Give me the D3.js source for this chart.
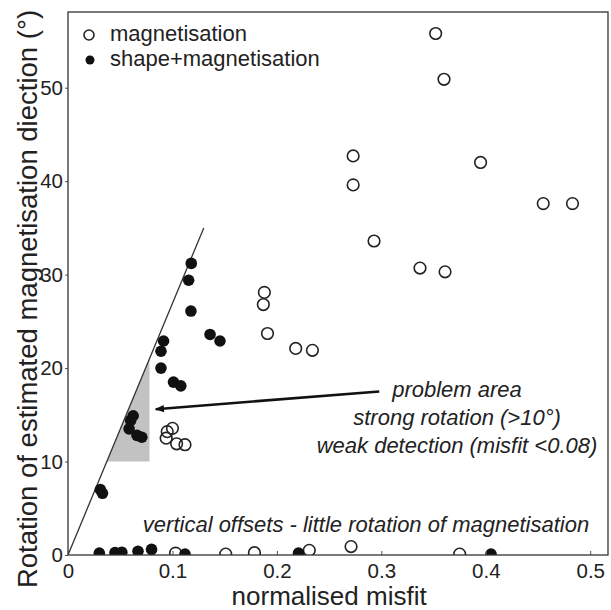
<!DOCTYPE html>
<html>
<head>
<meta charset="utf-8">
<script src="https://cdn.jsdelivr.net/npm/d3@7"></script>
<style>
  body { margin: 0; background: #fff; }
  svg { font-family: "Liberation Sans", Arial, sans-serif; }
</style>
</head>
<body>
<script>
// magnetisation only (open circles)
var magX = [0.352, 0.360, 0.273, 0.273, 0.395, 0.455, 0.483, 0.293, 0.337, 0.361,
            0.188, 0.187, 0.191, 0.218, 0.234, 0.100, 0.095, 0.094, 0.104, 0.112,
            0.103, 0.151, 0.1785, 0.231, 0.271, 0.375];
var magY = [55.8, 50.9, 42.7, 39.6, 42.0, 37.6, 37.6, 33.6, 30.7, 30.3,
            28.1, 26.8, 23.7, 22.1, 21.9, 13.55, 13.2, 12.5, 11.9, 11.8,
            0.2, 0.1, 0.25, 0.5, 0.9, 0.1];
// shape + magnetisation (filled)
var shapeX = [0.118, 0.1155, 0.1177, 0.136, 0.1455, 0.0915, 0.089, 0.089, 0.101, 0.108,
              0.0624, 0.060, 0.0585, 0.066, 0.0707, 0.031, 0.033,
              0.030, 0.045, 0.0515, 0.067, 0.080, 0.112, 0.2207, 0.405];
var shapeY = [31.2, 29.4, 26.1, 23.6, 22.9, 22.9, 21.8, 20.0, 18.5, 18.1,
              14.9, 14.4, 13.5, 12.8, 12.6, 7.0, 6.6,
              0.2, 0.25, 0.3, 0.4, 0.6, 0.1, 0.2, 0.1];

var xTicks = [0, 0.1, 0.2, 0.3, 0.4, 0.5];
var xTickLabels = ["0", "0.1", "0.2", "0.3", "0.4", "0.5"];
var yTicks = [0, 10, 20, 30, 40, 50];

var legendLabels = ["magnetisation", "shape+magnetisation"];
var problemText = ["problem area", "strong rotation (>10°)", "weak detection (misfit <0.08)"];
var offsetText = "vertical offsets - little rotation of magnetisation";

// trend line + problem box
var lineEnd = [0.13, 35];
var slope = lineEnd[1] / lineEnd[0];
var boxX = 0.078, boxY = 10;
var arrowFrom = [0.298, 17.5], arrowTo = [0.084, 15.6];

var W = 611, H = 610;
var margin = {top: 12, right: 3, bottom: 55, left: 68};

var svg = d3.select("body").append("svg")
    .attr("width", W)
    .attr("height", H);

var x = d3.scaleLinear().domain([0, 0.517]).range([margin.left, W - margin.right]);
var y = d3.scaleLinear().domain([0, 58.1]).range([H - margin.bottom, margin.top]);

svg.append("defs").append("clipPath").attr("id", "plot")
  .append("rect")
    .attr("x", margin.left).attr("y", margin.top)
    .attr("width", W - margin.left - margin.right)
    .attr("height", H - margin.top - margin.bottom);

svg.append("defs").append("marker")
    .attr("id", "head")
    .attr("viewBox", "0 0 10 10")
    .attr("refX", 9).attr("refY", 5)
    .attr("markerWidth", 6).attr("markerHeight", 3.5)
    .attr("orient", "auto")
  .append("path")
    .attr("d", "M0,1 L10,5 L0,9 Z")
    .attr("fill", "#111");

var g = svg.append("g").attr("clip-path", "url(#plot)");

// shaded problem area
var box = [[boxY / slope, boxY], [boxX, boxY], [boxX, boxX * slope]];
g.append("path")
    .attr("d", d3.line().x(function(d) { return x(d[0]); }).y(function(d) { return y(d[1]); })(box) + "Z")
    .attr("fill", "#c2c2c2");

g.append("line")
    .attr("x1", x(0)).attr("y1", y(0))
    .attr("x2", x(lineEnd[0])).attr("y2", y(lineEnd[1]))
    .attr("stroke", "#333").attr("stroke-width", 1.3);

// axes
var xAxis = d3.axisBottom(x).tickValues(xTicks)
    .tickFormat(function(d, i) { return xTickLabels[i]; })
    .tickSize(-4).tickPadding(8);
var gx = svg.append("g").attr("transform", "translate(0," + (H - margin.bottom) + ")").call(xAxis);

var yAxis = d3.axisLeft(y).tickValues(yTicks).tickSize(3).tickPadding(2);
var gy = svg.append("g").attr("transform", "translate(" + margin.left + ",0)").call(yAxis);

[gx, gy].forEach(function(a) {
  a.select(".domain").remove();
  a.selectAll("line").attr("stroke", "#555");
  a.selectAll("text").attr("font-size", 20.5).attr("fill", "#222")
   .attr("font-family", "Liberation Sans, Arial, sans-serif");
});

svg.append("rect")
    .attr("x", margin.left).attr("y", margin.top)
    .attr("width", W - margin.left - margin.right)
    .attr("height", H - margin.top - margin.bottom)
    .attr("fill", "none").attr("stroke", "#333").attr("stroke-width", 1.3);

// points
var mag = magX.map(function(d, i) { return {x: d, y: magY[i]}; });
var shape = shapeX.map(function(d, i) { return {x: d, y: shapeY[i]}; });

g.selectAll(".mag").data(mag)
  .enter().append("circle")
    .attr("class", "mag")
    .attr("cx", function(d) { return x(d.x); })
    .attr("cy", function(d) { return y(d.y); })
    .attr("r", 5.8)
    .attr("fill", "none").attr("stroke", "#222").attr("stroke-width", 1.6);

g.selectAll(".shape").data(shape)
  .enter().append("circle")
    .attr("class", "shape")
    .attr("cx", function(d) { return x(d.x); })
    .attr("cy", function(d) { return y(d.y); })
    .attr("r", 5.8)
    .attr("fill", "#111");

// arrow
svg.append("line")
    .attr("x1", x(arrowFrom[0])).attr("y1", y(arrowFrom[1]))
    .attr("x2", x(arrowTo[0])).attr("y2", y(arrowTo[1]))
    .attr("stroke", "#111").attr("stroke-width", 2.6)
    .attr("marker-end", "url(#head)");

// annotations
svg.selectAll(".prob").data(problemText)
  .enter().append("text")
    .attr("x", 457)
    .attr("y", function(d, i) { return 397 + i * 28; })
    .attr("text-anchor", "middle")
    .attr("font-size", 22)
    .attr("font-style", "italic")
    .attr("fill", "#222")
    .text(function(d) { return d; });

svg.append("text")
    .attr("x", 366).attr("y", 532)
    .attr("text-anchor", "middle")
    .attr("font-size", 22)
    .attr("font-style", "italic")
    .attr("fill", "#222")
    .text(offsetText);

// legend
var leg = svg.append("g");
leg.append("circle").attr("cx", 89).attr("cy", 35).attr("r", 5)
    .attr("fill", "none").attr("stroke", "#222").attr("stroke-width", 1.6);
leg.append("circle").attr("cx", 90).attr("cy", 60).attr("r", 4.5).attr("fill", "#111");
leg.selectAll("text").data(legendLabels)
  .enter().append("text")
    .attr("x", 110)
    .attr("y", function(d, i) { return 41 + i * 25; })
    .attr("font-size", 22)
    .attr("fill", "#222")
    .text(function(d) { return d; });

// axis titles
svg.append("text")
    .attr("x", x(0.25)).attr("y", 605)
    .attr("text-anchor", "middle")
    .attr("font-size", 26)
    .attr("fill", "#222")
    .text("normalised misfit");

svg.append("text")
    .attr("transform", "translate(37,299) rotate(-90)")
    .attr("text-anchor", "middle")
    .attr("font-size", 27.5)
    .attr("fill", "#222")
    .text("Rotation of estimated magnetisation diection (°)");
</script>
</body>
</html>
